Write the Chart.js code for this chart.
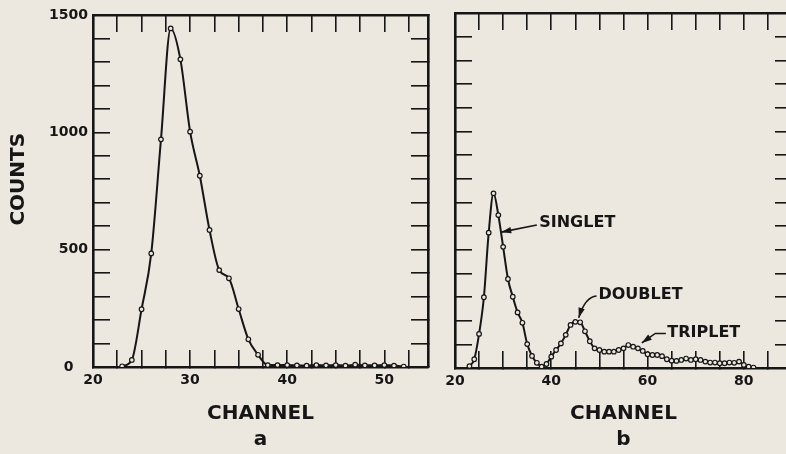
<!DOCTYPE html>
<html>
<head>
<meta charset="utf-8">
<script src="https://cdn.jsdelivr.net/npm/chart.js@4/dist/chart.umd.min.js"></script>
<style>
    html, body { margin: 0; padding: 0; background: #ece7df; overflow: hidden; }
    #wrap { position: relative; width: 786px; height: 454px; overflow: hidden; }
    canvas { position: absolute; top: 0; }
    #chartA { left: 0; }
    #chartB { left: 440px; }
</style>
</head>
<body>
<div id="wrap">
    <canvas id="chartA" width="440" height="454"></canvas>
    <canvas id="chartB" width="360" height="454"></canvas>
</div>
<script>
// panel a: single-photon pulse height spectrum
const channelsA = [23, 24, 25, 26, 27, 28, 29, 30, 31, 32, 33, 34, 35, 36, 37,
    38, 39, 40, 41, 42, 43, 44, 45, 46, 47, 48, 49, 50, 51, 52];
const countsA = [3, 30, 246, 484, 970, 1443, 1311, 1003, 815, 584, 413, 378, 247, 118, 52,
    8, 8, 8, 7, 6, 8, 7, 8, 6, 10, 7, 7, 8, 6, 2];

// panel b: singlet / doublet / triplet spectrum
const channelsB = [23, 24, 25, 26, 27, 28, 29, 30, 31, 32, 33, 34, 35, 36, 37, 38, 39, 40,
    41, 42, 43, 44, 45, 46, 47, 48, 49, 50, 51, 52, 53, 54, 55, 56, 57, 58, 59, 60,
    61, 62, 63, 64, 65, 66, 67, 68, 69, 70, 71, 72, 73, 74, 75, 76, 77, 78, 79, 80, 81, 82];
const countsB = [8, 37, 144, 299, 572, 738, 646, 512, 376, 301, 235, 191, 101, 51, 22, 6, 17, 48,
    76, 104, 140, 182, 195, 193, 155, 113, 83, 76, 69, 69, 69, 76, 83, 97, 90, 83, 72, 58,
    55, 55, 50, 37, 31, 30, 34, 40, 34, 37, 34, 27, 23, 23, 20, 20, 23, 22, 27, 13, 6, 2];

const xLabelsA = [20, 30, 40, 50];
const xLabelsB = [20, 40, 60, 80];
const yLabels = [0, 500, 1000, 1500];
const calloutNames = ['SINGLET', 'DOUBLET', 'TRIPLET'];

const INK = '#161616';
const PAPER = '#ece7df';
const FONT = 'DejaVu Sans';

const calloutPlugin = {
    id: 'callouts',
    afterDatasetsDraw: function (chart, args, opts) {
        const items = opts.items || [];
        const xs = chart.scales.x;
        const ys = chart.scales.y;
        const ctx = chart.ctx;
        ctx.save();
        ctx.strokeStyle = INK;
        ctx.fillStyle = INK;
        ctx.lineWidth = 1.6;
        for (let i = 0; i < items.length; i++) {
            const it = items[i];
            const pts = it.path.map(p => [xs.getPixelForValue(p[0]), ys.getPixelForValue(p[1])]);
            ctx.beginPath();
            ctx.moveTo(pts[0][0], pts[0][1]);
            if (it.curve && pts.length === 3) {
                ctx.quadraticCurveTo(pts[1][0], pts[1][1], pts[2][0], pts[2][1]);
            } else {
                for (let j = 1; j < pts.length; j++) {
                    ctx.lineTo(pts[j][0], pts[j][1]);
                }
            }
            ctx.stroke();
            // arrow head at the end of the path
            const tip = pts[pts.length - 1];
            const prev = pts[pts.length - 2];
            const ang = Math.atan2(tip[1] - prev[1], tip[0] - prev[0]);
            const len = 10, half = 3.2;
            ctx.beginPath();
            ctx.moveTo(tip[0], tip[1]);
            ctx.lineTo(tip[0] - len * Math.cos(ang) + half * Math.sin(ang), tip[1] - len * Math.sin(ang) - half * Math.cos(ang));
            ctx.lineTo(tip[0] - len * Math.cos(ang) - half * Math.sin(ang), tip[1] - len * Math.sin(ang) + half * Math.cos(ang));
            ctx.closePath();
            ctx.fill();
            // label
            ctx.font = 'bold 16px "' + FONT + '"';
            ctx.textAlign = 'left';
            ctx.textBaseline = 'middle';
            ctx.fillText(it.text, xs.getPixelForValue(it.at[0]), ys.getPixelForValue(it.at[1]));
        }
        // rotated y-axis caption
        if (opts.sideTitle) {
            ctx.translate(19, ys.getPixelForValue(opts.sideTitle.at));
            ctx.rotate(-Math.PI / 2);
            ctx.font = 'bold 20px "' + FONT + '"';
            ctx.textAlign = 'center';
            ctx.textBaseline = 'middle';
            ctx.fillText(opts.sideTitle.text, 0, 0);
        }
        ctx.restore();
    }
};

function tickGrid() {
    return {
        display: true,
        drawOnChartArea: false,
        drawTicks: true,
        tickLength: -17,
        color: INK,
        lineWidth: 1.6
    };
}

function axisBorder() {
    return { display: true, color: INK, width: 2.6 };
}

// fixed box size, no extra room for overflowing tick labels
function fixBox(size, horizontal) {
    return function (s) {
        if (horizontal) {
            s.height = size;
        } else {
            s.width = size;
        }
        s.paddingLeft = 0;
        s.paddingRight = 0;
        s.paddingTop = 0;
        s.paddingBottom = 0;
    };
}

function buildPanel(cfg) {
    return {
        type: 'line',
        data: {
            datasets: [
                {
                    data: cfg.channels.map((c, i) => ({ x: c, y: cfg.counts[i] })),
                    borderColor: INK,
                    borderWidth: 2,
                    pointRadius: 2.3,
                    pointBorderWidth: 1.2,
                    pointBorderColor: INK,
                    pointBackgroundColor: PAPER,
                    cubicInterpolationMode: 'monotone',
                    fill: false
                }
            ]
        },
        options: {
            responsive: false,
            animation: false,
            events: [],
            layout: { padding: cfg.padding },
            plugins: {
                legend: { display: false },
                tooltip: { enabled: false },
                callouts: { items: cfg.callouts || [], sideTitle: cfg.sideTitle }
            },
            scales: {
                x: {
                    type: 'linear',
                    position: 'bottom',
                    min: cfg.xMin,
                    max: cfg.xMax,
                    border: axisBorder(),
                    grid: tickGrid(),
                    ticks: {
                        stepSize: cfg.xStep,
                        includeBounds: false,
                        autoSkip: false,
                        maxRotation: 0,
                        padding: 22,
                        color: INK,
                        font: { family: FONT, size: 14, weight: 'bold' },
                        callback: v => cfg.xLabels.includes(v) ? String(v) : ''
                    },
                    title: {
                        display: true,
                        text: ['CHANNEL', cfg.letter],
                        color: INK,
                        font: { family: FONT, size: 20, weight: 'bold', lineHeight: 1.3 },
                        padding: { top: 0, bottom: 1 }
                    },
                    afterFit: fixBox(cfg.xHeight, true)
                },
                xTop: {
                    type: 'linear',
                    position: 'top',
                    min: cfg.xMin,
                    max: cfg.xMax,
                    border: axisBorder(),
                    grid: tickGrid(),
                    ticks: { display: false, stepSize: cfg.xStep, includeBounds: false, autoSkip: false },
                    afterFit: fixBox(0, true)
                },
                y: {
                    type: 'linear',
                    position: 'left',
                    min: 0,
                    max: 1500,
                    border: axisBorder(),
                    grid: tickGrid(),
                    ticks: {
                        display: cfg.yTicks,
                        stepSize: 100,
                        autoSkip: false,
                        padding: 22,
                        color: INK,
                        font: { family: FONT, size: 14, weight: 'bold' },
                        callback: v => yLabels.includes(v) ? (v === 0 ? '0   ' : String(v)) : ''
                    },
                    afterFit: fixBox(cfg.yWidth, false)
                },
                yRight: {
                    type: 'linear',
                    position: 'right',
                    min: 0,
                    max: 1500,
                    border: axisBorder(),
                    grid: tickGrid(),
                    ticks: { display: false, stepSize: 100, autoSkip: false },
                    afterFit: fixBox(0, false)
                }
            }
        },
        plugins: [calloutPlugin]
    };
}

const Spectra = {
    chartA: null,
    chartB: null,
    init: function () {
        this.drawPanelA();
        this.drawPanelB();
    },
    drawPanelA: function () {
        Spectra.chartA = new Chart(document.getElementById('chartA'), buildPanel({
            channels: channelsA,
            counts: countsA,
            xMin: 20,
            xMax: 54.5,
            xStep: 2.5,
            xLabels: xLabelsA,
            letter: 'a',
            yTicks: true,
            yWidth: 93,
            xHeight: 87,
            padding: { top: 15, right: 12, bottom: 0, left: 0 },
            sideTitle: { text: 'COUNTS', at: 800 }
        }));
    },
    drawPanelB: function () {
        Spectra.chartB = new Chart(document.getElementById('chartB'), buildPanel({
            channels: channelsB,
            counts: countsB,
            xMin: 20,
            xMax: 90,
            xStep: 5,
            xLabels: xLabelsB,
            letter: 'b',
            yTicks: false,
            yWidth: 15,
            xHeight: 86,
            padding: { top: 13, right: 8, bottom: 0, left: 0 },
            callouts: [
                { text: calloutNames[0], at: [37.5, 613], path: [[37.0, 604], [29.6, 574]] },
                { text: calloutNames[1], at: [49.8, 308], path: [[49.4, 304], [47.0, 300], [45.7, 212]], curve: true },
                { text: calloutNames[2], at: [64.1, 148], path: [[63.8, 146], [61.6, 146], [58.8, 106]] }
            ]
        }));
    }
};

window.addEventListener('load', function () {
    Spectra.init();
});
</script>
</body>
</html>
